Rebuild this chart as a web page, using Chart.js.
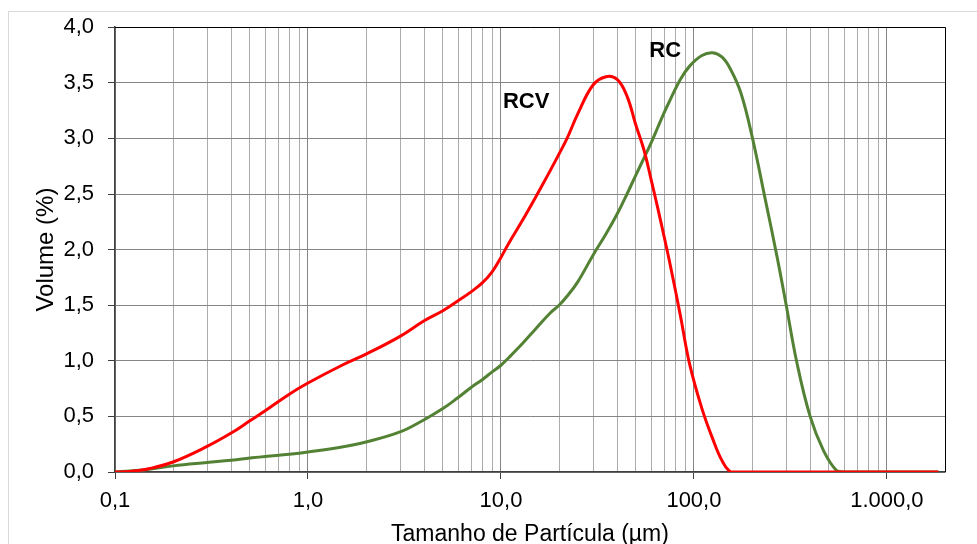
<!DOCTYPE html>
<html>
<head>
<meta charset="utf-8">
<script src="https://cdn.jsdelivr.net/npm/chart.js@4.4.1/dist/chart.umd.min.js"></script>
<style>
  html, body { margin: 0; padding: 0; background: #fff; }
  #wrap { position: relative; width: 977px; height: 544px; overflow: hidden; }
  #frame { position: absolute; left: 8px; top: 11px; width: 1200px; height: 800px; border: 1px solid #d9d9d9; }
  canvas { position: absolute; left: 0; top: 0; }
</style>
</head>
<body>
<div id="wrap"><div id="frame"></div><canvas id="chart" width="977" height="544"></canvas></div>
<script>
// Tamanho de partícula (µm)
const sizes = [0.1, 0.12, 0.15, 0.2, 0.3, 0.4, 0.5, 0.6, 0.8, 1, 1.5, 2, 3, 4, 5, 6, 7, 8, 9, 10,
  11, 13, 15, 18, 20, 22, 25, 30, 35, 40, 45, 50, 55, 60, 65, 70, 75, 85, 95, 110,
  125, 140, 155, 175, 200, 235, 270, 300, 340, 400, 470, 550, 600, 800, 1000, 1500, 1850];

// Volume (%) - RCV
const rcv = [0, 0.005, 0.03, 0.09, 0.23, 0.35, 0.46, 0.55, 0.70, 0.80, 0.96, 1.06, 1.22, 1.36, 1.45, 1.54, 1.62, 1.70, 1.80, 1.93,
  2.06, 2.27, 2.46, 2.71, 2.86, 3.00, 3.22, 3.48, 3.555, 3.53, 3.38, 3.12, 2.90, 2.63, 2.37, 2.12, 1.88, 1.41, 0.97, 0.57,
  0.30, 0.10, 0, 0, 0, 0, 0, 0, 0, 0, 0, 0, 0, 0, 0, 0, 0];

// Volume (%) - RC
const rc = [0, 0.01, 0.025, 0.055, 0.085, 0.105, 0.125, 0.14, 0.16, 0.18, 0.225, 0.27, 0.36, 0.47, 0.57, 0.67, 0.76, 0.83, 0.90, 0.96,
  1.03, 1.16, 1.28, 1.43, 1.50, 1.58, 1.71, 1.95, 2.14, 2.32, 2.50, 2.67, 2.82, 2.96, 3.10, 3.23, 3.34, 3.53, 3.65, 3.745,
  3.77, 3.73, 3.62, 3.41, 3.02, 2.44, 1.93, 1.51, 1.00, 0.50, 0.19, 0.01, 0, 0, 0, 0, 0];

const xTickValues = [0.1, 1, 10, 100, 1000];
const xTickLabels = ['0,1', '1,0', '10,0', '100,0', '1.000,0'];
const yTickValues = [0, 0.5, 1, 1.5, 2, 2.5, 3, 3.5, 4];
const yTickLabels = ['0,0', '0,5', '1,0', '1,5', '2,0', '2,5', '3,0', '3,5', '4,0'];

// rótulos das curvas
const curveNames = ['RCV', 'RC'];
const curveLabelX = [13.5, 71];
const curveLabelY = [3.33, 3.79];

function toPoints(values) {
  return sizes.map((s, i) => ({ x: s, y: values[i] }));
}

function isDecade(v) {
  return xTickValues.some(t => Math.abs(t - v) / t < 1e-6);
}

// linhas de grade do eixo log: 1..9 em cada década
function logTicks(min, max) {
  const ticks = [];
  for (let d = min; d < max; d *= 10) {
    for (let k = 1; k <= 9; k++) {
      const v = +(d * k).toPrecision(4);
      if (v <= max) ticks.push({ value: v });
    }
  }
  return ticks;
}

Chart.defaults.font.family = "'Liberation Sans', Arial, sans-serif";
Chart.defaults.color = '#000';

const curveLabels = {
  id: 'curveLabels',
  afterDatasetsDraw(chart) {
    const { ctx, scales: { x, y }, chartArea } = chart;
    ctx.save();
    ctx.font = "bold 22px 'Liberation Sans', Arial, sans-serif";
    ctx.fillStyle = '#000';
    ctx.textAlign = 'center';
    ctx.textBaseline = 'middle';
    curveNames.forEach((name, i) => {
      ctx.fillText(name, x.getPixelForValue(curveLabelX[i]), y.getPixelForValue(curveLabelY[i]));
    });
    // borda superior e direita da área do gráfico
    ctx.strokeStyle = '#000';
    ctx.lineWidth = 1;
    ctx.beginPath();
    ctx.moveTo(Math.round(chartArea.left), Math.round(chartArea.top) + 0.5);
    ctx.lineTo(Math.round(chartArea.right) + 0.5, Math.round(chartArea.top) + 0.5);
    ctx.lineTo(Math.round(chartArea.right) + 0.5, Math.round(chartArea.bottom));
    ctx.stroke();
    ctx.restore();
  }
};

const ctx = document.getElementById('chart').getContext('2d');
new Chart(ctx, {
  type: 'line',
  data: {
    datasets: [{
      label: 'RCV',
      data: toPoints(rcv),
      borderColor: '#ff0000',
      borderWidth: 3,
      pointRadius: 0,
      tension: 0.4,
      fill: false
    }, {
      label: 'RC',
      data: toPoints(rc),
      borderColor: '#548235',
      borderWidth: 3,
      pointRadius: 0,
      tension: 0.4,
      fill: false
    }]
  },
  options: {
    responsive: false,
    animation: false,
    devicePixelRatio: 1,
    layout: { padding: { top: 24, right: 32, left: 0, bottom: 0 } },
    plugins: {
      legend: { display: false },
      tooltip: { enabled: false }
    },
    scales: {
      x: {
        type: 'logarithmic',
        min: 0.1,
        max: 2000,
        afterBuildTicks: scale => { scale.ticks = logTicks(0.1, 2000); },
        afterFit: scale => { scale.height = 72; },
        ticks: {
          autoSkip: false,
          maxRotation: 0,
          padding: 9,
          font: { size: 22 },
          callback: value => {
            const i = xTickValues.findIndex(t => Math.abs(t - value) / t < 1e-6);
            return i >= 0 ? xTickLabels[i] : '';
          }
        },
        grid: {
          color: c => (c.tick && isDecade(c.tick.value)) ? '#868686' : '#ababab',
          tickColor: c => (c.tick && isDecade(c.tick.value)) ? '#404040' : 'rgba(0,0,0,0)',
          tickLength: 7
        },
        border: { color: '#404040', width: 1.5 },
        title: {
          display: true,
          text: 'Tamanho de Partícula (µm)',
          font: { size: 23, lineHeight: 0.8 },
          padding: { top: 0, bottom: 0 }
        }
      },
      y: {
        type: 'linear',
        min: 0,
        max: 4,
        afterBuildTicks: scale => { scale.ticks = yTickValues.map(v => ({ value: v })); },
        afterFit: scale => { scale.width = 115; },
        ticks: {
          padding: 14,
          font: { size: 22 },
          callback: value => yTickLabels[yTickValues.indexOf(value)]
        },
        grid: { color: '#868686', tickColor: '#404040', tickLength: 7 },
        border: { color: '#404040', width: 1.5 },
        title: {
          display: true,
          text: 'Volume (%)',
          font: { size: 24, lineHeight: 1.2 },
          padding: { top: 32, bottom: 0 }
        }
      }
    }
  },
  plugins: [curveLabels]
});
</script>
</body>
</html>
